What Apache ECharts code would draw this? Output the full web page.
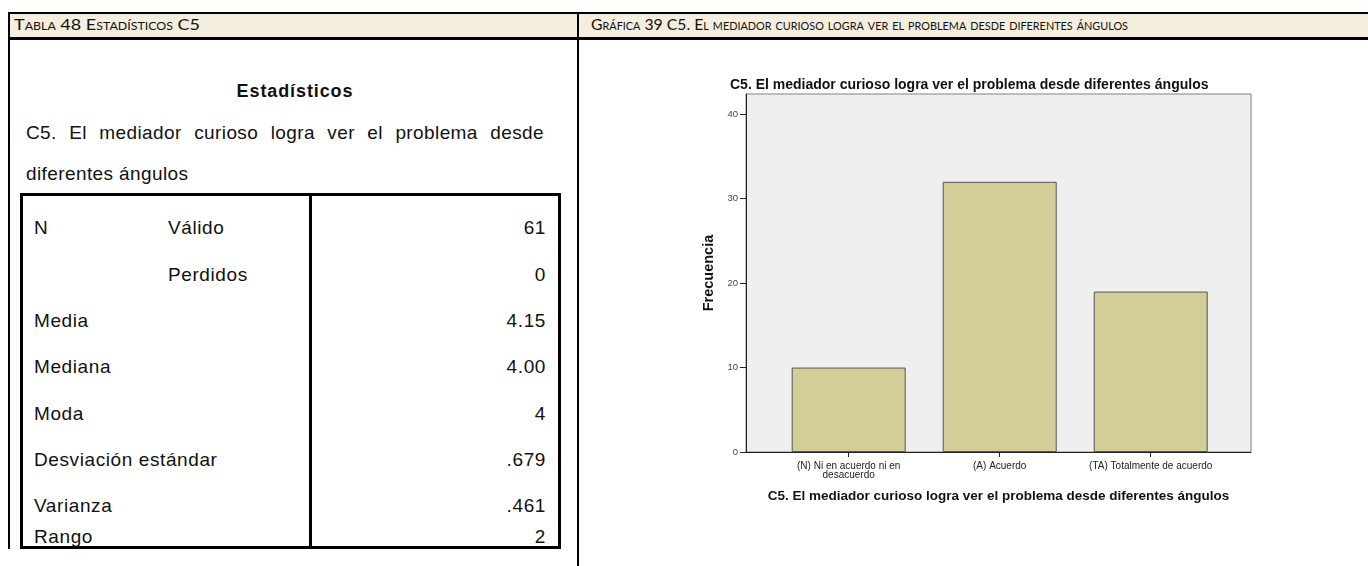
<!DOCTYPE html>
<html>
<head>
<meta charset="utf-8">
<script src="https://cdn.jsdelivr.net/npm/echarts@6/dist/echarts.min.js"></script>
<style>
  html, body { margin: 0; padding: 0; background: #fff; }
  body { width: 1368px; height: 566px; position: relative; overflow: hidden; font-family: "Liberation Sans", Arial, sans-serif; }
  .abs { position: absolute; }
  #hdr { left: 8px; top: 12px; width: 1362px; height: 23px; background: #f4eedf; border-top: 2px solid #000; border-bottom: 3px solid #000; }
  #leftBorder { left: 8px; top: 12px; width: 2px; height: 537px; background: #000; }
  #divider { left: 577px; top: 12px; width: 2px; height: 554px; background: #000; }
  .cap { font-family: Lato, "Open Sans", sans-serif; font-variant: small-caps; font-size: 16px; line-height: 20px; color: #111; white-space: nowrap; top: 14px; transform-origin: left center; }
  #capL { left: 14px; }
  #capR { left: 591px; }
  #statTitle { left: 0; width: 590px; text-align: center; top: 81px; font-weight: bold; font-size: 18px; letter-spacing: 0.9px; color: #111; white-space: nowrap; }
  .q { left: 26px; font-size: 19px; color: #111; white-space: nowrap; letter-spacing: 0.4px; line-height: 22px; }
  #q1 { width: 518px; text-align: justify; text-align-last: justify; white-space: normal; }
  #statBox { left: 20px; top: 193px; width: 535px; height: 350px; border: 3px solid #000; }
  #statDiv { left: 309px; top: 193px; width: 3px; height: 356px; background: #000; }
  .cell { font-size: 19px; color: #111; white-space: nowrap; letter-spacing: 0.6px; line-height: 22px; }
  .val { text-align: right; width: 200px; left: 346px; }
  #chart { left: 580px; top: 40px; width: 788px; height: 526px; }
</style>
</head>
<body>
<div id="hdr" class="abs"></div>
<div id="leftBorder" class="abs"></div>
<div id="divider" class="abs"></div>
<div id="capL" class="abs cap"></div>
<div id="capR" class="abs cap"></div>
<div id="statTitle" class="abs"></div>
<div id="q1" class="abs q" style="top:122px"></div>
<div id="q2" class="abs q" style="top:163px"></div>
<div id="statBox" class="abs"></div>
<div id="statDiv" class="abs"></div>
<div id="rows"></div>
<div id="chart" class="abs"></div>
<script>
// ---- data ----
const tableCaption = 'Tabla 48 Estadísticos C5';
const chartCaption = 'Gráfica 39 C5. El mediador curioso logra ver el problema desde diferentes ángulos';
const statsHeading = 'Estadísticos';
const questionLines = ['C5. El mediador curioso logra ver el problema desde', 'diferentes ángulos'];
const statGroup = ['N', '', 'Media', 'Mediana', 'Moda', 'Desviación estándar', 'Varianza', 'Rango'];
const statSub = ['Válido', 'Perdidos', '', '', '', '', '', ''];
const statValues = ['61', '0', '4.15', '4.00', '4', '.679', '.461', '2'];

const chartTitle = 'C5. El mediador curioso logra ver el problema desde diferentes ángulos';
const categories = ['(N) Ni en acuerdo ni en\ndesacuerdo', '(A) Acuerdo', '(TA) Totalmente de acuerdo'];
const frequencies = [10, 32, 19];
const yAxisName = 'Frecuencia';
const xAxisName = 'C5. El mediador curioso logra ver el problema desde diferentes ángulos';
const yTicks = [0, 10, 20, 30, 40];

// ---- layout (not data) ----
const rowCenters = [228, 275, 321, 367, 414, 460, 506, 537];
const captionWidths = { capL: 186, capR: 537 };

document.getElementById('capL').textContent = tableCaption;
document.getElementById('capR').textContent = chartCaption;
document.getElementById('statTitle').textContent = statsHeading;
document.getElementById('q1').textContent = questionLines[0];
document.getElementById('q2').textContent = questionLines[1];

Object.keys(captionWidths).forEach(id => {
  const el = document.getElementById(id);
  const w = el.getBoundingClientRect().width;
  el.style.transform = 'scaleX(' + (captionWidths[id] / w) + ')';
});

const rows = document.getElementById('rows');
statValues.forEach((v, i) => {
  const top = rowCenters[i] - 11;
  if (statGroup[i]) {
    const d = document.createElement('div');
    d.className = 'abs cell'; d.style.left = '34px'; d.style.top = top + 'px';
    d.textContent = statGroup[i]; rows.appendChild(d);
  }
  if (statSub[i]) {
    const d = document.createElement('div');
    d.className = 'abs cell'; d.style.left = '168px'; d.style.top = top + 'px';
    d.textContent = statSub[i]; rows.appendChild(d);
  }
  const d = document.createElement('div');
  d.className = 'abs cell val'; d.style.top = top + 'px';
  d.textContent = v; rows.appendChild(d);
});

const font = '"Liberation Sans", Arial, sans-serif';
const chart = echarts.init(document.getElementById('chart'), null, { renderer: 'canvas' });
chart.setOption({
  animation: false,
  title: {
    text: chartTitle, left: 150, top: 38, padding: 0,
    textStyle: { fontFamily: font, fontSize: 14, fontWeight: 'bold', color: '#111' }
  },
  grid: {
    left: 166, top: 54, width: 505, height: 358,
    show: true, backgroundColor: '#efefef', borderColor: '#808080', borderWidth: 1
  },
  xAxis: {
    type: 'value', min: -0.68, max: 2.664,
    splitLine: { show: false },
    axisLine: { show: true, onZero: false, lineStyle: { color: '#222', width: 1 } },
    axisTick: { show: true, customValues: [0, 1, 2], length: 5, lineStyle: { color: '#222' } },
    axisLabel: {
      customValues: [0, 1, 2],
      formatter: v => categories[Math.round(v)],
      fontFamily: font, fontSize: 10, lineHeight: 9, margin: 10, color: '#222'
    },
    name: xAxisName, nameLocation: 'middle', nameGap: 37,
    nameTextStyle: { fontFamily: font, fontSize: 13.5, fontWeight: 'bold', color: '#111' }
  },
  yAxis: {
    type: 'value', min: 0, max: 42.4, interval: 10,
    splitLine: { show: false },
    axisLine: { show: true, onZero: false, lineStyle: { color: '#222', width: 1 } },
    axisTick: { show: true, customValues: yTicks, length: 6, lineStyle: { color: '#222' } },
    axisLabel: { customValues: yTicks, fontFamily: font, fontSize: 9.5, margin: 8, color: '#444' },
    name: yAxisName, nameLocation: 'middle', nameGap: 27, nameRotate: 90,
    nameTextStyle: { fontFamily: font, fontSize: 14.5, fontWeight: 'bold', color: '#111' }
  },
  series: [{
    type: 'bar',
    data: frequencies.map((v, i) => [i, v]),
    barWidth: 114,
    itemStyle: { color: '#d3ce97', borderColor: '#555', borderWidth: 1 }
  }]
});
</script>
</body>
</html>
